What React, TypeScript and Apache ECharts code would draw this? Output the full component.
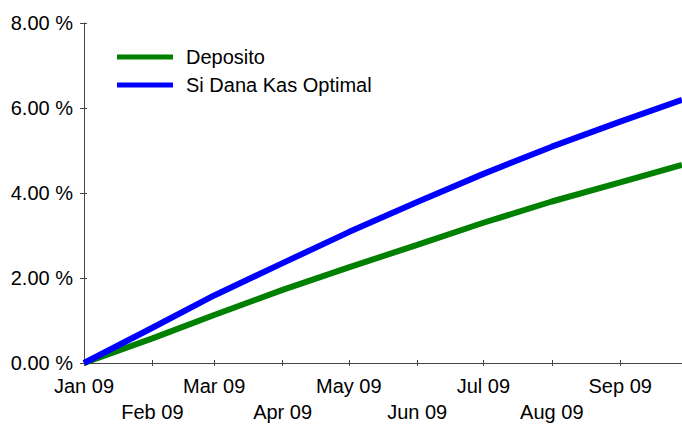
import React, { useEffect, useRef } from "react";
import * as echarts from "echarts";

// Days since 1 Jan 2009 at which each month starts (tick positions)
const monthDays = [0, 31, 59, 90, 120, 151, 181, 212, 243];
const monthLabels = ["Jan 09", "Feb 09", "Mar 09", "Apr 09", "May 09", "Jun 09", "Jul 09", "Aug 09", "Sep 09"];
const lastDay = 271;

// Sample points (day index, % return)
const pointDays = [0, 31, 59, 90, 120, 151, 181, 212, 243, 271];
const deposito = [0, 0.58, 1.13, 1.72, 2.25, 2.78, 3.3, 3.8, 4.25, 4.66];
const optimal = [0, 0.83, 1.59, 2.35, 3.08, 3.79, 4.45, 5.09, 5.68, 6.19];

const yTicks = [0, 2, 4, 6, 8];

const seriesNames = ["Deposito", "Si Dana Kas Optimal"];
const seriesColors = ["#008000", "#0000ff"];

const FONT = "'Liberation Sans', Arial, sans-serif";
const FS = 20;

export default function App() {
  const ref = useRef<HTMLDivElement>(null);

  useEffect(() => {
    if (!ref.current) return;
    const chart = echarts.init(ref.current, null, { renderer: "svg" });
    const axisColor = "#444";
    const option: any = {
      animation: false,
      backgroundColor: "#ffffff",
      textStyle: { fontFamily: FONT },
      grid: { left: 84, top: 23, right: 0, bottom: 62, containLabel: false },
      legend: {
        orient: "vertical",
        left: 112,
        top: 42,
        itemWidth: 56,
        itemHeight: 5,
        itemGap: 8,
        icon: "rect",
        textStyle: {
          fontFamily: FONT,
          fontSize: FS,
          color: "#000",
          lineHeight: 20,
          padding: [0, 0, 0, 8],
        },
        data: seriesNames,
      },
      xAxis: [
        {
          type: "value",
          position: "bottom",
          min: 0,
          max: lastDay,
          axisLine: { show: true, lineStyle: { color: axisColor, width: 1 } },
          axisTick: {
            show: true,
            length: 3,
            customValues: monthDays,
            lineStyle: { color: axisColor },
          },
          axisLabel: {
            customValues: monthDays,
            margin: 10,
            fontFamily: FONT,
            fontSize: FS,
            color: "#000",
            lineHeight: 26,
            formatter: (v: number) => {
              const i = monthDays.indexOf(Math.round(v));
              if (i < 0) return "";
              return i % 2 === 1 ? "\n" + monthLabels[i] : monthLabels[i];
            },
          },
          splitLine: { show: false },
        },
        {
          type: "value",
          position: "top",
          min: 0,
          max: lastDay,
          axisLine: { show: true, lineStyle: { color: axisColor, width: 1 } },
          axisTick: { show: false },
          axisLabel: { show: false },
          splitLine: { show: false },
        },
        {
          type: "value",
          position: "bottom",
          min: 0,
          max: lastDay,
          axisLine: { show: false },
          axisTick: {
            show: true,
            inside: true,
            length: 3,
            customValues: monthDays,
            lineStyle: { color: axisColor },
          },
          axisLabel: { show: false },
          splitLine: { show: false },
        },
      ],
      yAxis: [
        {
          type: "value",
          min: 0,
          max: 8,
          interval: 2,
          axisLine: { show: true, lineStyle: { color: axisColor, width: 1 } },
          axisTick: { show: true, length: 4, lineStyle: { color: axisColor } },
          axisLabel: {
            margin: 11,
            fontFamily: FONT,
            fontSize: FS,
            color: "#000",
            formatter: (v: number) => (yTicks.includes(v) ? v.toFixed(2) + " %" : ""),
          },
          splitLine: { show: false },
        },
        {
          type: "value",
          position: "left",
          min: 0,
          max: 8,
          interval: 2,
          axisLine: { show: false },
          axisTick: { show: true, inside: true, length: 3, lineStyle: { color: axisColor } },
          axisLabel: { show: false },
          splitLine: { show: false },
        },
      ],
      series: [
        {
          name: seriesNames[0],
          type: "line",
          xAxisIndex: 0,
          yAxisIndex: 0,
          showSymbol: false,
          symbol: "none",
          color: seriesColors[0],
          lineStyle: { width: 6, color: seriesColors[0] },
          data: pointDays.map((d, i) => [d, deposito[i]]),
        },
        {
          name: seriesNames[1],
          type: "line",
          xAxisIndex: 0,
          yAxisIndex: 0,
          showSymbol: false,
          symbol: "none",
          color: seriesColors[1],
          lineStyle: { width: 6, color: seriesColors[1] },
          data: pointDays.map((d, i) => [d, optimal[i]]),
        },
      ],
    };
    chart.setOption(option);
    return () => chart.dispose();
  }, []);

  return (
    <div
      ref={ref}
      style={{ position: "fixed", left: 0, top: 0, width: 682, height: 425, background: "#fff" }}
    />
  );
}
